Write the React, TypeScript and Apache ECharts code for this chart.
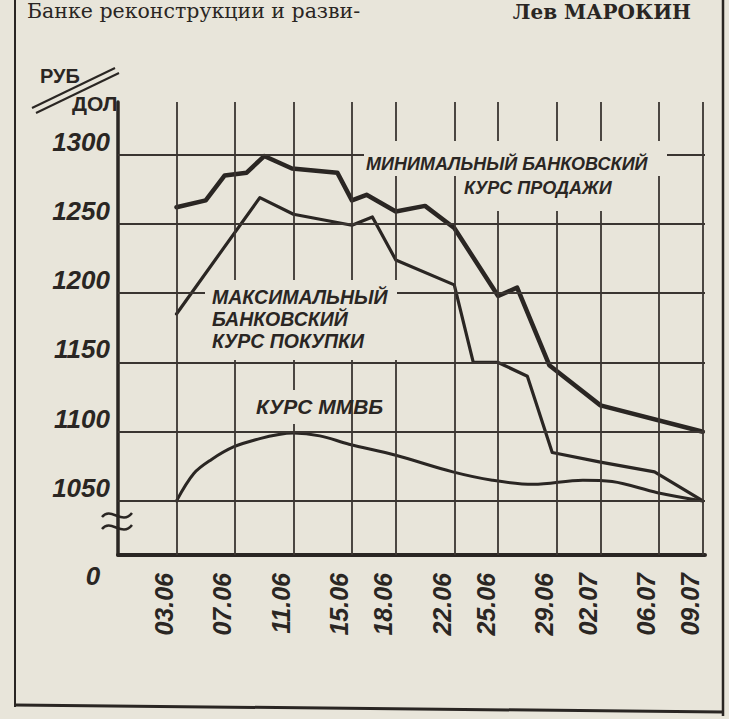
import React, { useEffect, useRef } from 'react';
import * as echarts from 'echarts';

// ---- data (days counted from 1 June) ----
const dateDays = [3, 7, 11, 15, 18, 22, 25, 29, 32, 36, 39];
const dateLabels = ['03.06', '07.06', '11.06', '15.06', '18.06', '22.06', '25.06', '29.06', '02.07', '06.07', '09.07'];
const rateTicks = [1050, 1100, 1150, 1200, 1250, 1300];

// минимальный банковский курс продажи
const minSellDays = [3, 5, 6.3, 7.8, 9, 10.9, 14, 15, 16, 18, 20, 22, 25, 26.3, 28.5, 32, 39];
const minSellRates = [1262, 1267, 1285, 1287, 1299, 1290, 1287, 1267, 1271, 1259, 1263, 1247, 1198, 1204, 1148, 1119, 1100];

// максимальный банковский курс покупки
const maxBuyDays = [3, 8.7, 11, 15, 16.4, 18, 22, 23.3, 25, 27, 28.7, 32, 35.7, 39];
const maxBuyRates = [1185, 1269, 1257, 1249, 1255, 1224, 1206, 1150, 1150, 1140, 1085, 1078, 1071, 1050];

// курс ММВБ
const mmvbDays = [3, 4.2, 5.4, 6.9, 8.7, 10, 11, 12.8, 14.8, 18, 21.9, 24.6, 27.4, 30.8, 32.8, 35.9, 39];
const mmvbRates = [1050, 1070, 1080, 1089, 1095, 1098, 1099, 1097, 1091, 1083, 1071, 1065, 1062, 1065, 1064, 1056, 1050];

const INK = '#2a2623';
const PAPER = '#e8e5da';
const STENCIL = "'Liberation Sans', Arial, sans-serif";

export default function App() {
  const ref = useRef<HTMLDivElement>(null);

  useEffect(() => {
    const chart = echarts.init(ref.current as HTMLDivElement, null, { renderer: 'svg' });
    const zip = (d: number[], v: number[]) => d.map((x, i) => [x, v[i]]);

    const lbl = (text: string, x: number, y: number, size: number, extra: any = {}) => ({
      type: 'text',
      x,
      y,
      z: 11,
      silent: true,
      style: {
        text,
        fill: INK,
        fontFamily: STENCIL,
        fontSize: size,
        fontWeight: 'bold',
        fontStyle: 'italic',
        textAlign: 'left',
        textVerticalAlign: 'middle',
        ...extra,
      },
    });
    const mask = (x: number, y: number, w: number, h: number) => ({
      type: 'rect',
      z: 10,
      silent: true,
      shape: { x, y, width: w, height: h },
      style: { fill: PAPER },
    });
    const frame = (x1: number, y1: number, x2: number, y2: number, w: number) => ({
      type: 'line',
      z: 11,
      silent: true,
      shape: { x1, y1, x2, y2 },
      style: { stroke: INK, lineWidth: w },
    });

    const option: any = {
      animation: false,
      backgroundColor: PAPER,
      grid: { left: 118, right: 24, top: 102, bottom: 164, containLabel: false },
      xAxis: {
        type: 'value',
        min: -1,
        max: 39.15,
        axisLine: { show: true, onZero: false, lineStyle: { color: INK, width: 4 } },
        axisTick: { show: false },
        splitLine: { show: false },
        axisLabel: {
          customValues: dateDays,
          rotate: 90,
          margin: 18,
          verticalAlign: 'bottom',
          formatter: (v: number) => {
            const i = dateDays.indexOf(v);
            return i >= 0 ? dateLabels[i] : '';
          },
          color: INK,
          fontSize: 25,
          fontWeight: 'bold',
          fontStyle: 'italic',
          fontFamily: STENCIL,
        },
      },
      yAxis: {
        type: 'value',
        min: 1011,
        max: 1338,
        axisLine: { show: true, onZero: false, lineStyle: { color: INK, width: 3.5 } },
        axisTick: { show: false },
        splitLine: { show: false },
        axisLabel: {
          customValues: rateTicks,
          margin: 8,
          verticalAlign: 'bottom',
          formatter: (v: number) => String(v),
          color: INK,
          fontSize: 26,
          fontWeight: 'bold',
          fontStyle: 'italic',
          fontFamily: STENCIL,
        },
      },
      series: [
        {
          type: 'line',
          name: 'Курс ММВБ',
          data: zip(mmvbDays, mmvbRates),
          smooth: 0.35,
          symbol: 'none',
          z: 3,
          lineStyle: { color: INK, width: 3, cap: 'round', join: 'round' },
          markLine: {
            silent: true,
            symbol: 'none',
            label: { show: false },
            emphasis: { disabled: true },
            lineStyle: { type: 'solid', color: '#3a3531', width: 1.8 },
            data: [
              ...dateDays.map((d) => ({ xAxis: d })),
              ...rateTicks.map((v) => ({ yAxis: v })),
            ],
          },
        },
        {
          type: 'line',
          name: 'Максимальный банковский курс покупки',
          data: zip(maxBuyDays, maxBuyRates),
          symbol: 'none',
          z: 3,
          lineStyle: { color: INK, width: 3.2, cap: 'round', join: 'round' },
        },
        {
          type: 'line',
          name: 'Минимальный банковский курс продажи',
          data: zip(minSellDays, minSellRates),
          symbol: 'none',
          z: 4,
          lineStyle: { color: INK, width: 4.5, cap: 'round', join: 'round' },
        },
      ],
      graphic: [
        // masks where the hand-drawn grid is interrupted by the captions
        mask(364, 141, 303, 35),
        mask(457, 176, 168, 35),
        mask(205, 280, 192, 80),
        mask(252, 390, 78, 34),
        // captions
        lbl('МИНИМАЛЬНЫЙ БАНКОВСКИЙ', 366, 164, 18),
        lbl('КУРС ПРОДАЖИ', 464, 188, 18),
        lbl('МАКСИМАЛЬНЫЙ', 212, 297, 19.5),
        lbl('БАНКОВСКИЙ', 212, 319, 19.5),
        lbl('КУРС ПОКУПКИ', 212, 341, 19.5),
        lbl('КУРС ММВБ', 256, 406, 21),
        lbl('0', 93, 576, 26, { textAlign: 'center' }),
        // unit caption
        lbl('РУБ', 40, 76, 20, { fontStyle: 'normal' }),
        lbl('ДОЛ', 72, 103, 21, { fontStyle: 'normal' }),
        frame(32, 108, 115, 68, 2),
        frame(36, 113, 119, 73, 2),
        // axis break
        {
          type: 'bezierCurve',
          z: 11,
          silent: true,
          shape: { x1: 102, y1: 517, cpx1: 111, cpy1: 506, cpx2: 122, cpy2: 526, x2: 132, y2: 513 },
          style: { stroke: INK, lineWidth: 2.5, fill: null },
        },
        {
          type: 'bezierCurve',
          z: 11,
          silent: true,
          shape: { x1: 102, y1: 529, cpx1: 111, cpy1: 518, cpx2: 122, cpy2: 538, x2: 132, y2: 525 },
          style: { stroke: INK, lineWidth: 2.5, fill: null },
        },
        // newspaper frame
        frame(15, 0, 15, 707, 2),
        frame(723, 0, 723, 716, 2.5),
        frame(15, 705, 723, 712, 3),
        // header texts
        {
          type: 'text',
          x: 27,
          y: 11,
          z: 11,
          silent: true,
          style: {
            text: 'Банке реконструкции и разви-',
            fill: INK,
            fontFamily: "'DejaVu Serif', serif",
            fontSize: 20.5,
            textAlign: 'left',
            textVerticalAlign: 'middle',
          },
        },
        {
          type: 'text',
          x: 691,
          y: 12,
          z: 11,
          silent: true,
          style: {
            text: 'Лев МАРОКИН',
            fill: INK,
            fontFamily: "'DejaVu Serif', serif",
            fontSize: 20,
            fontWeight: 'bold',
            textAlign: 'right',
            textVerticalAlign: 'middle',
          },
        },
      ],
    };

    chart.setOption(option);
    return () => chart.dispose();
  }, []);

  return (
    <div
      ref={ref}
      style={{ position: 'absolute', left: 0, top: 0, width: 729, height: 719, background: PAPER }}
    />
  );
}
